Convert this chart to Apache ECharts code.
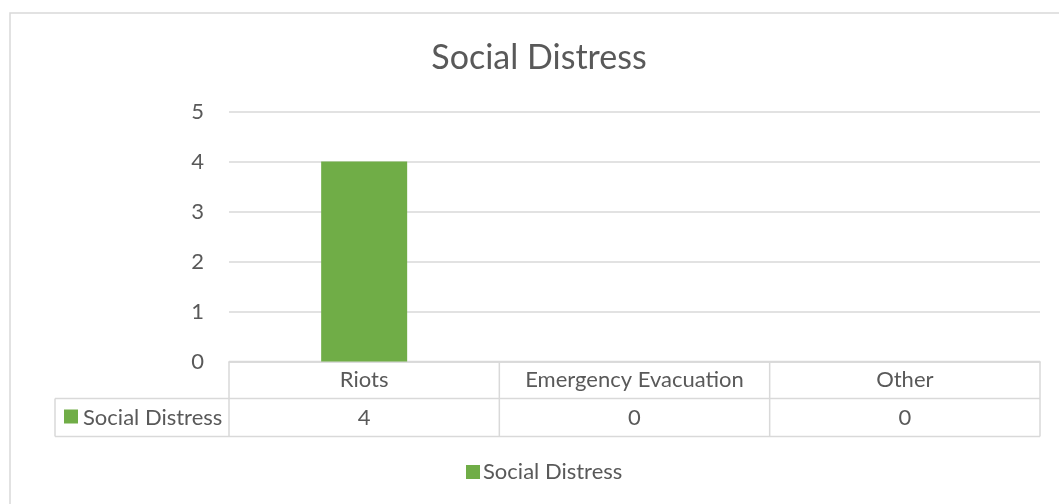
<!DOCTYPE html>
<html><head><meta charset="utf-8">
<script src="https://cdn.jsdelivr.net/npm/echarts@6/dist/echarts.min.js"></script>
<style>html,body{margin:0;padding:0;background:#fff}#c{width:1059px;height:504px}</style>
</head><body><div id="c"></div>
<script>
const chartTitle = 'Social Distress';
const categories = ['Riots', 'Emergency Evacuation', 'Other'];
const seriesName = 'Social Distress';
const values = [4, 0, 0];
const yTicks = [0, 1, 2, 3, 4, 5];

const FONT = 'Lato';
const TXT = '#595959';
const LINE = '#d9d9d9';
const GREEN = '#70AD47';
const W = 1059, H = 504;
const G = {left: 229, right: 19, top: 111.5, bottom: 142.5};

const chart = echarts.init(document.getElementById('c'), null, {renderer: 'canvas'});
chart.setOption({
  animation: false,
  textStyle: {fontFamily: FONT},
  title: {
    text: chartTitle, left: 534, top: 36, textAlign: 'center',
    textStyle: {fontFamily: FONT, fontSize: 34, fontWeight: 'normal', color: TXT}
  },
  grid: {left: G.left, right: G.right, top: G.top, bottom: G.bottom, containLabel: false},
  xAxis: {
    type: 'category', data: categories,
    axisLine: {lineStyle: {color: LINE, width: 1.5}},
    axisTick: {show: false},
    axisLabel: {show: false}
  },
  yAxis: {
    type: 'value', min: yTicks[0], max: yTicks[yTicks.length - 1], interval: 1,
    axisLine: {show: false}, axisTick: {show: false},
    axisLabel: {fontFamily: FONT, fontSize: 22, color: TXT, margin: 25},
    splitLine: {lineStyle: {color: LINE, width: 1.5}}
  },
  legend: {
    data: [seriesName], left: 466, top: 461, padding: 0, icon: 'rect',
    itemWidth: 14, itemHeight: 14, itemGap: 5,
    textStyle: {fontFamily: FONT, fontSize: 22, color: TXT, padding: [0, 0, 0, -2]}
  },
  series: [{
    name: seriesName, type: 'bar', data: values, barWidth: 86,
    itemStyle: {color: GREEN}
  }]
});

// Data table below the plot
const rows = [H - G.bottom, 398.5, 436.5];
const headerLeft = 55;
const band = (W - G.left - G.right) / categories.length;
const right = W - G.right;
const gfx = [];
function hline(x1, x2, y) {
  gfx.push({type: 'line', shape: {x1, y1: y, x2, y2: y}, style: {stroke: LINE, lineWidth: 1.5}, silent: true});
}
function vline(x, y1, y2) {
  gfx.push({type: 'line', shape: {x1: x, y1, x2: x, y2}, style: {stroke: LINE, lineWidth: 1.5}, silent: true});
}
hline(G.left, right, rows[0]);
hline(headerLeft, right, rows[1]);
hline(headerLeft, right, rows[2]);
vline(headerLeft, rows[1], rows[2]);
categories.forEach((c, i) => {
  const cx = chart.convertToPixel({xAxisIndex: 0}, c);
  vline(cx - band / 2, rows[0], rows[2]);
  if (i === categories.length - 1) vline(cx + band / 2, rows[0], rows[2]);
  gfx.push({type: 'text', x: cx, y: (rows[0] + rows[1]) / 2, silent: true,
    style: {text: c, fontFamily: FONT, fontSize: 22, fill: TXT, align: 'center', verticalAlign: 'middle'}});
  gfx.push({type: 'text', x: cx, y: (rows[1] + rows[2]) / 2, silent: true,
    style: {text: String(values[i]), fontFamily: FONT, fontSize: 22, fill: TXT, align: 'center', verticalAlign: 'middle'}});
});
gfx.push({type: 'rect', shape: {x: 64, y: 409.5, width: 14, height: 14}, style: {fill: GREEN}, silent: true});
gfx.push({type: 'text', x: 83, y: (rows[1] + rows[2]) / 2, silent: true,
  style: {text: seriesName, fontFamily: FONT, fontSize: 22, fill: TXT, align: 'left', verticalAlign: 'middle'}});
// chart area border
gfx.push({type: 'rect', shape: {x: 10, y: 13, width: 1200, height: 700}, style: {fill: 'none', stroke: LINE, lineWidth: 1.5}, silent: true, z: -1});
chart.setOption({graphic: gfx});
</script></body></html>
